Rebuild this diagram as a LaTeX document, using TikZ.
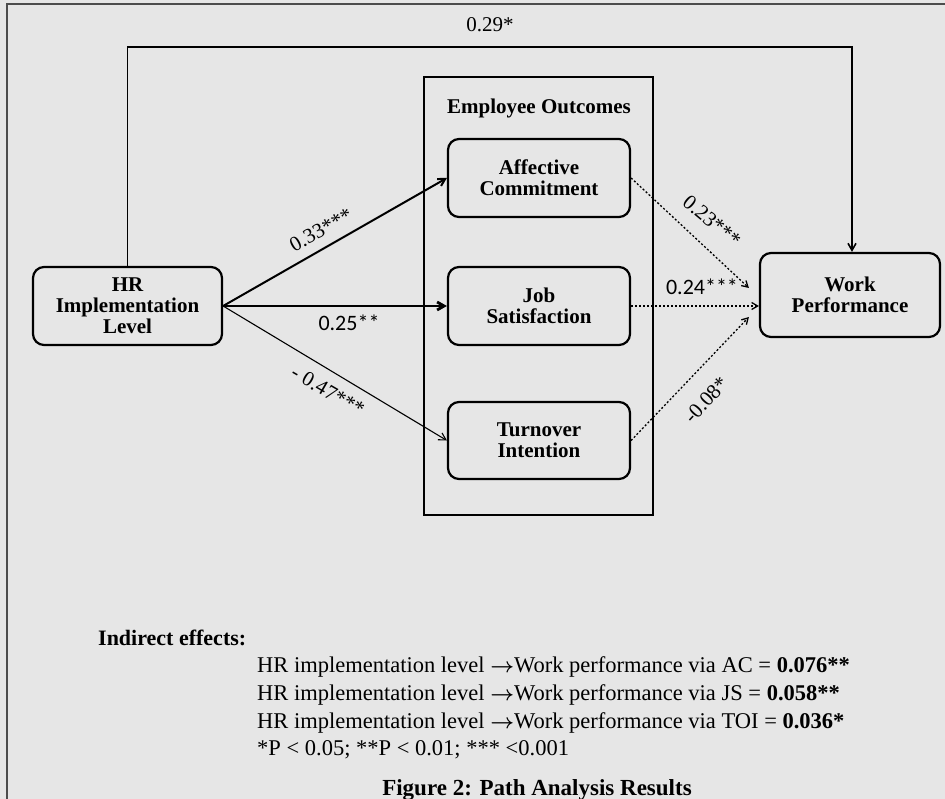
\documentclass[tikz,border=0pt]{standalone}
\usepackage{fontspec}
\setmainfont{Liberation Serif}
\newfontfamily\calib{Carlito}
\usetikzlibrary{arrows.meta,calc}
\definecolor{bgc}{HTML}{E6E6E6}
\newcommand{\myarrow}{\ensuremath{\boldsymbol{\rightarrow}}}
\usepackage{amsmath}
\begin{document}
\begin{tikzpicture}[x=1pt,y=-1pt,
  nodebox/.style={draw, rounded corners=11pt, line width=2.2pt, align=center,
    minimum width=182pt, minimum height=78pt, inner sep=0pt,
    font=\fontsize{21}{21}\selectfont\bfseries},
  lab/.style={font=\fontsize{21}{21}\selectfont, inner sep=1pt},
  sanslab/.style={font=\calib\fontsize{22}{22}\selectfont, inner sep=1pt},
  arr/.style={-{Straight Barb[length=7pt,width=8pt]}},
  dotarr/.style={line width=1.3pt, dash pattern=on 2pt off 2pt, -{Straight Barb[length=6pt,width=7pt]}},
  bodytext/.style={anchor=base west, inner sep=0pt, font=\fontsize{22.5}{22.5}\selectfont}
]
\fill[bgc] (0,0) rectangle (945,799);
\useasboundingbox (0,0) rectangle (945,799);
\draw[line width=1.5pt, black!70] (7,799) -- (7,4) -- (945,4);

% employee outcomes box
\node[draw, line width=1.8pt, minimum width=229pt, minimum height=438pt, inner sep=0pt] (eo) at (538.5,296) {};
\node[font=\fontsize{21}{21}\selectfont\bfseries] (eot) at (539,108) {Employee Outcomes};

% nodes
\node[nodebox, minimum width=189pt] (hr) at (127.5,306) {HR\\Implementation\\Level};
\node[nodebox] (ac) at (539,178) {Affective\\Commitment};
\node[nodebox] (js) at (539,306) {Job\\Satisfaction};
\node[nodebox, minimum height=77pt] (ti) at (539,440.5) {Turnover\\Intention};
\node[nodebox, minimum width=180pt, minimum height=84pt] (wp) at (850,295) {Work\\Performance};

% direct path
\coordinate (topL) at (127.5,47);
\coordinate (topR) at (852,47);
\draw[line width=1.6pt, arr] (hr.north) -- (topL) -- (topR) -- (topR |- wp.north);
\node[lab] (l029) at (490,25) {0.29*};

% HR -> outcomes
\draw[arr, line width=2pt] (hr.east) -- (ac.west);
\draw[arr, line width=2.8pt] (hr.east) -- (js.west);
\draw[arr, line width=1.1pt] (hr.east) -- (ti.west);
\node[lab, rotate=29] (l033) at (321,230) {0.33***};
\node[sanslab] (l025) at (349,323) {0.25**};
\node[lab, rotate=-30] (l047) at (328,391) {- 0.47***};

% outcomes -> WP
\coordinate (w1) at ($(wp.west)+(-10,-7)$);
\coordinate (w2) at (js.east -| wp.west);
\coordinate (w3) at ($(wp.west)+(-10,22)$);
\draw[dotarr] (ac.east) -- (w1);
\draw[dotarr] (js.east) -- (w2);
\draw[dotarr] (ti.east) -- (w3);
\node[lab, rotate=-40] (l023) at (712,221) {0.23***};
\node[sanslab] (l024) at (702,287) {0.24***};
\node[lab, rotate=47] (l008) at (706,400) {-0.08*};

% bottom text
\node[bodytext, font=\fontsize{22}{22}\selectfont\bfseries] (ie) at (98,645) {Indirect effects:};
\node[bodytext] (t1) at (257,672) {HR implementation level \myarrow Work performance via AC = \textbf{0.076**}};
\node[bodytext] (t2) at (257,700) {HR implementation level \myarrow Work performance via JS = \textbf{0.058**}};
\node[bodytext] (t3) at (257,728) {HR implementation level \myarrow Work performance via TOI = \textbf{0.036*}};
\node[bodytext] (t4) at (257,755) {*P < 0.05; **P < 0.01; *** <0.001};
\node[anchor=base, inner sep=0pt, font=\fontsize{23}{23}\selectfont\bfseries] (cap) at (537,795) {Figure 2: Path Analysis Results};
\end{tikzpicture}
\end{document}
